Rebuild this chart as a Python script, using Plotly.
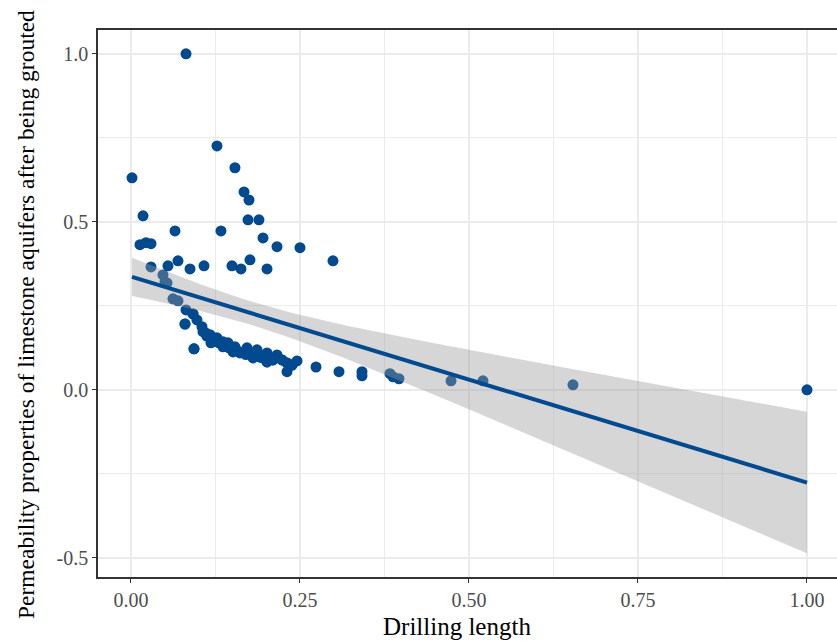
import numpy as np
import plotly.graph_objects as go

drilling_length = [
    0.0814, 0.0015, 0.0178, 0.0133, 0.0222, 0.0296, 0.0651, 0.1331, 0.1272, 0.1538,
    0.1672, 0.1746, 0.1731, 0.1893, 0.1953, 0.2160, 0.2500, 0.2988, 0.0296, 0.0547,
    0.0695, 0.0873, 0.1080, 0.1494, 0.1627, 0.1760, 0.2012, 0.0473, 0.0503, 0.0533,
    0.0621, 0.0695, 0.0814, 0.0917, 0.0799, 0.0976, 0.0932, 0.1050, 0.1065, 0.1169,
    0.1183, 0.1272, 0.1361, 0.1361, 0.1435, 0.1538, 0.1509, 0.1612, 0.1716, 0.1760,
    0.1805, 0.1864, 0.1908, 0.2012, 0.2012, 0.2100, 0.2160, 0.2234, 0.2308, 0.2308,
    0.2382, 0.2456, 0.2737, 0.3077, 0.3417, 0.3417, 0.3831, 0.3876, 0.3964, 0.4734,
    0.5207, 0.6538, 1.0000,
    # overlapping points hidden inside the dense cluster
    0.2012, 0.2234, 0.2308, 0.2382, 0.2100, 0.1908, 0.1100, 0.1120, 0.1220, 0.1300,
    0.1400, 0.1450, 0.1560, 0.1650, 0.1700, 0.1830, 0.1950, 0.2060,
    0.0932, 0.0799, 0.0917,
]
permeability = [
    1.000, 0.631, 0.518, 0.432, 0.438, 0.435, 0.473, 0.473, 0.726, 0.661,
    0.589, 0.565, 0.506, 0.506, 0.452, 0.426, 0.423, 0.384, 0.366, 0.369,
    0.384, 0.360, 0.369, 0.369, 0.360, 0.387, 0.360, 0.342, 0.321, 0.318,
    0.271, 0.265, 0.238, 0.226, 0.196, 0.208, 0.122, 0.188, 0.173, 0.164,
    0.140, 0.155, 0.143, 0.128, 0.140, 0.128, 0.113, 0.110, 0.125, 0.110,
    0.095, 0.119, 0.098, 0.110, 0.083, 0.089, 0.104, 0.089, 0.080, 0.054,
    0.074, 0.086, 0.068, 0.054, 0.054, 0.042, 0.048, 0.039, 0.033, 0.027,
    0.027, 0.015, 0.000,
    0.083, 0.089, 0.080, 0.074, 0.089, 0.098, 0.170, 0.160, 0.150, 0.140,
    0.132, 0.125, 0.118, 0.112, 0.105, 0.100, 0.095, 0.092,
    0.122, 0.196, 0.226,
]
x_ticks = [0.0, 0.25, 0.5, 0.75, 1.0]
x_tick_labels = ["0.00", "0.25", "0.50", "0.75", "1.00"]
y_ticks = [-0.5, 0.0, 0.5, 1.0]
y_tick_labels = ["-0.5", "0.0", "0.5", "1.0"]

BLUE = "#024a8f"
x = np.array(drilling_length)
y = np.array(permeability)
n = len(x)
X = np.column_stack([np.ones(n), x])
beta, *_ = np.linalg.lstsq(X, y, rcond=None)
resid = y - X @ beta
s2 = resid @ resid / (n - 2)
XtX_inv = np.linalg.inv(X.T @ X)
xs = np.linspace(x.min(), x.max(), 80)
Xs = np.column_stack([np.ones_like(xs), xs])
fit = Xs @ beta
se = np.sqrt(np.einsum("ij,jk,ik->i", Xs, XtX_inv, Xs) * s2)
tq = 1.99
upper = fit + tq * se
lower = fit - tq * se

fig = go.Figure()
fig.add_trace(go.Scatter(x=x, y=y, mode="markers",
                         marker=dict(color=BLUE, size=11, line=dict(width=0)),
                         showlegend=False, hoverinfo="skip"))
fig.add_trace(go.Scatter(x=np.concatenate([xs, xs[::-1]]),
                         y=np.concatenate([upper, lower[::-1]]),
                         fill="toself", fillcolor="rgba(153,153,153,0.4)",
                         line=dict(width=0), mode="lines",
                         showlegend=False, hoverinfo="skip"))
fig.add_trace(go.Scatter(x=xs, y=fit, mode="lines",
                         line=dict(color=BLUE, width=4),
                         showlegend=False, hoverinfo="skip"))

font_family = "Liberation Serif"
fig.update_layout(
    width=837, height=641,
    margin=dict(l=98, r=0, t=30, b=64),
    plot_bgcolor="white", paper_bgcolor="white",
    font=dict(family=font_family),
    xaxis=dict(range=[-0.0488, 1.0444], tickvals=x_ticks, ticktext=x_tick_labels,
               showgrid=True, gridcolor="#ebebeb", gridwidth=1.5,
               minor=dict(tickvals=[0.125, 0.375, 0.625, 0.875], showgrid=True,
                          gridcolor="#ebebeb", gridwidth=1),
               zeroline=False, showline=True, linecolor="#333333", linewidth=1.5,
               mirror=True, ticks="outside", ticklen=4, tickcolor="#333333",
               tickfont=dict(size=20, color="#4d4d4d", family=font_family)),
    yaxis=dict(range=[-0.557, 1.071], tickvals=y_ticks, ticktext=y_tick_labels,
               showgrid=True, gridcolor="#ebebeb", gridwidth=1.5,
               minor=dict(tickvals=[-0.25, 0.25, 0.75], showgrid=True,
                          gridcolor="#ebebeb", gridwidth=1),
               zeroline=False, showline=True, linecolor="#333333", linewidth=1.5,
               ticks="outside", ticklen=4, tickcolor="#333333",
               tickfont=dict(size=20, color="#4d4d4d", family=font_family)),
    annotations=[
        dict(text="Drilling length", xref="paper", yref="paper",
             x=(457 - 98) / 739, y=0, yshift=-49, xanchor="center", yanchor="middle",
             showarrow=False, font=dict(size=25, color="black", family=font_family)),
        dict(text="Permeability properties of limestone aquifers after being grouted",
             xref="paper", yref="paper", x=0, xshift=-72, y=(577 - 315) / 547,
             xanchor="center", yanchor="middle", textangle=-90, showarrow=False,
             font=dict(size=23.5, color="black", family=font_family)),
    ],
)

fig.write_html("out.html")
